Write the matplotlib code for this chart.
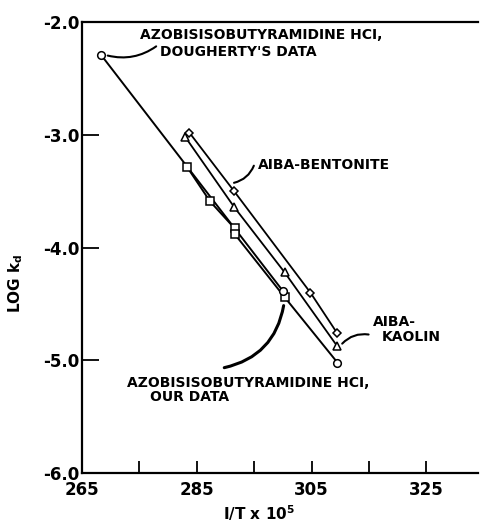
import matplotlib.pyplot as plt

plt.rcParams['font.family'] = 'DejaVu Sans'
plt.rcParams['font.weight'] = 'bold'

# Dougherty's data (azobisisobutyramidine HCl)
dough_x = [268.3, 300.0]
dough_y = [-2.29, -4.385]

# our data (azobisisobutyramidine HCl)
ours_sq_x = [283.3, 287.3, 291.6, 291.6, 300.3]
ours_sq_y = [-3.285, -3.59, -3.83, -3.88, -4.44]
ours_end_x = [309.5]
ours_end_y = [-5.02]

# AIBA-bentonite
bent_x = [283.7, 291.5, 304.8, 309.4]
bent_y = [-2.98, -3.50, -4.40, -4.755]

# AIBA-kaolin
kaol_x = [283.0, 291.5, 300.3, 309.4]
kaol_y = [-3.02, -3.64, -4.22, -4.87]

x_ticks = [265, 285, 305, 325]
y_ticks = [-2.0, -3.0, -4.0, -5.0, -6.0]

fig = plt.figure(figsize=(4.8, 5.28), dpi=100)
ax = fig.add_axes([0.171, 0.104, 0.825, 0.854])

mk = dict(mfc='white', mec='black', mew=1.1, ms=5.5)

ax.plot(dough_x, dough_y, color='black', lw=1.4, zorder=2)
ax.plot(dough_x[:1], dough_y[:1], 'o', **mk, zorder=3)

ours_x = ours_sq_x + ours_end_x
ours_y = ours_sq_y + ours_end_y
ax.plot(ours_x, ours_y, color='black', lw=1.4, zorder=2)
ax.plot(ours_sq_x, ours_sq_y, 's', **mk, zorder=3)
ax.plot(ours_end_x, ours_end_y, 'o', **mk, zorder=3)
ax.plot(dough_x[1:], dough_y[1:], 'o', **mk, zorder=4)

ax.plot(bent_x, bent_y, color='black', lw=1.3, zorder=2)
ax.plot(bent_x, bent_y, 'D', mfc='white', mec='black', mew=1.1, ms=4.5, zorder=3)
ax.plot(kaol_x, kaol_y, color='black', lw=1.3, zorder=2)
ax.plot(kaol_x, kaol_y, '^', **mk, zorder=3)

ax.set_xlim(265, 334)
ax.set_ylim(-6.0, -2.0)
ax.set_xticks(x_ticks)
ax.set_xticks([275, 295, 315], minor=True)
ax.set_yticks(y_ticks)
ax.set_yticklabels(['-2.0', '-3.0', '-4.0', '-5.0', '-6.0'])
ax.tick_params(axis='both', which='both', direction='in', labelsize=12, width=1.3)
ax.tick_params(axis='x', which='major', length=9, pad=6)
ax.tick_params(axis='x', which='minor', length=9)
ax.tick_params(axis='y', which='major', length=12, pad=2)
for lab in ax.get_xticklabels() + ax.get_yticklabels():
    lab.set_fontweight('bold')
ax.spines['right'].set_visible(False)
for s in ['left', 'bottom', 'top']:
    ax.spines[s].set_linewidth(1.6)

ax.set_ylabel(r'LOG k$_\mathbf{d}$', fontsize=11, fontweight='bold')
ax.set_xlabel(r'I/T x 10$^\mathbf{5}$', fontsize=11, fontweight='bold')
ax.yaxis.set_label_coords(-0.145, 0.42)
ax.xaxis.set_label_coords(0.447, -0.066)

tk = dict(fontsize=10, fontweight='bold', va='center')
arr = dict(arrowstyle='-', color='black', lw=1.5)

# Dougherty's label
ax.text(275.1, -2.115, "AZOBISISOBUTYRAMIDINE HCI,", ha='left', **tk)
ax.text(278.6, -2.266, "DOUGHERTY'S DATA", ha='left', **tk)
ax.annotate('', xy=(269.0, -2.29), xytext=(278.3, -2.2),
            arrowprops=dict(arr, connectionstyle='arc3,rad=-0.25'))

# bentonite label
ax.text(295.6, -3.27, "AIBA-BENTONITE", ha='left', **tk)
ax.annotate('', xy=(291.0, -3.43), xytext=(295.1, -3.25),
            arrowprops=dict(arr, connectionstyle='arc3,rad=-0.3'))

# kaolin label
ax.text(315.6, -4.66, "AIBA-", ha='left', **tk)
ax.text(317.3, -4.79, "KAOLIN", ha='left', **tk)
ax.annotate('', xy=(310.0, -4.87), xytext=(315.4, -4.775),
            arrowprops=dict(arr, connectionstyle='arc3,rad=0.3'))

# our data label
ax.text(294.0, -5.20, "AZOBISISOBUTYRAMIDINE HCI,", ha='center', **tk)
ax.text(276.8, -5.325, "OUR DATA", ha='left', **tk)
ax.annotate('', xy=(300.2, -4.49), xytext=(289.3, -5.07),
            arrowprops=dict(arrowstyle='-', color='black', lw=2.2,
                            connectionstyle='arc3,rad=0.35'))

fig.savefig('out.png', dpi=100)
